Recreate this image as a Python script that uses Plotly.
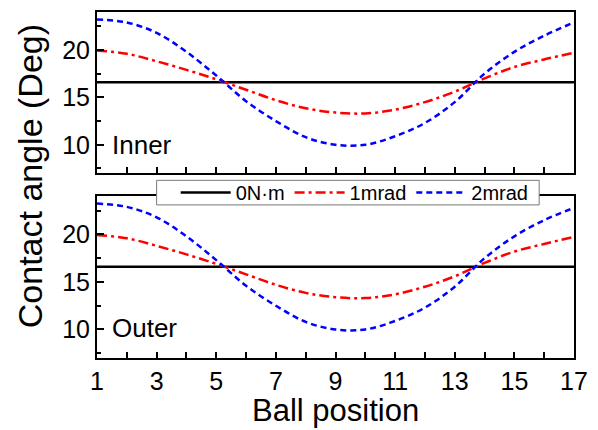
import plotly.graph_objects as go

positions = list(range(1, 18))
x_tick_vals = [1, 3, 5, 7, 9, 11, 13, 15, 17]
y_tick_vals = [10, 15, 20]

series_names = ["0N·m", "1mrad", "2mrad"]

inner_0nm = [16.6] * 17
inner_1mrad = [19.95, 19.6, 18.8, 17.9, 16.9, 15.8, 14.7, 13.85, 13.4, 13.3, 13.7, 14.5, 15.6, 17.0, 18.2, 19.0, 19.7]
inner_2mrad = [23.2, 22.9, 21.8, 19.8, 17.3, 14.6, 12.5, 10.8, 10.0, 10.0, 10.9, 12.3, 14.5, 17.5, 19.8, 21.5, 22.9]

outer_0nm = [16.6] * 17
outer_1mrad = [19.95, 19.6, 18.8, 17.9, 16.9, 15.8, 14.7, 13.85, 13.4, 13.3, 13.7, 14.5, 15.6, 17.0, 18.2, 19.0, 19.75]
outer_2mrad = [23.25, 22.9, 21.8, 19.8, 17.3, 14.6, 12.5, 10.8, 10.0, 10.0, 10.9, 12.3, 14.5, 17.5, 19.8, 21.5, 22.8]

FONT = "Liberation Sans, Arial, sans-serif"
styles = [
    dict(color="#000000", width=2.5, dash="solid"),
    dict(color="#FF0000", width=2.5, dash="10px,4px,3px,4px"),
    dict(color="#0000FF", width=2.5, dash="6px,4px"),
]

fig = go.Figure()

panels = [
    ("x2", "y2", [inner_0nm, inner_1mrad, inner_2mrad], True),
    ("x", "y", [outer_0nm, outer_1mrad, outer_2mrad], False),
]
for xa, ya, data, show in panels:
    for name, vals, st in zip(series_names, data, styles):
        fig.add_trace(go.Scatter(
            x=positions, y=vals, mode="lines", name=name,
            line=dict(color=st["color"], width=st["width"], dash=st["dash"], shape="spline", smoothing=1.0),
            xaxis=xa, yaxis=ya, showlegend=show,
        ))

axis_common = dict(
    showline=True, linecolor="black", linewidth=2, mirror=True,
    ticks="inside", tickcolor="black", tickwidth=1.5,
    showgrid=False, zeroline=False,
    tickfont=dict(family=FONT, size=25, color="black"),
)

fig.update_layout(
    width=598, height=430,
    margin=dict(l=97, r=21, t=10, b=72),
    paper_bgcolor="white", plot_bgcolor="white",
    font=dict(family=FONT, color="black"),
    xaxis=dict(**axis_common, range=[1, 17], tickvals=x_tick_vals, ticklen=6,
               minor=dict(dtick=1, tick0=1, ticklen=6, tickwidth=1.5, tickcolor="black", ticks="inside"),
               anchor="y", domain=[0, 1]),
    xaxis2=dict(**axis_common, range=[1, 17], tickvals=x_tick_vals, ticklen=6, showticklabels=False,
                minor=dict(dtick=1, tick0=1, ticklen=6, tickwidth=1.5, tickcolor="black", ticks="inside"),
                anchor="y2", matches="x", domain=[0, 1]),
    yaxis=dict(**axis_common, range=[7, 24], tickvals=y_tick_vals, ticklen=7,
               minor=dict(dtick=2.5, tick0=0, ticklen=4, tickwidth=1.5, tickcolor="black", ticks="inside"),
               domain=[0, 0.467], anchor="x"),
    yaxis2=dict(**axis_common, range=[7, 24], tickvals=y_tick_vals, ticklen=7,
                minor=dict(dtick=2.5, tick0=0, ticklen=4, tickwidth=1.5, tickcolor="black", ticks="inside"),
                domain=[0.534, 1], anchor="x2"),
    legend=dict(
        orientation="h", x=0.165, y=0.478, xanchor="left", yanchor="middle",
        bgcolor="rgba(0,0,0,0)", borderwidth=0,
        font=dict(family=FONT, size=20, color="black"),
        itemwidth=50, tracegroupgap=0,
    ),
    shapes=[
        dict(type="rect", xref="paper", yref="paper", x0=0.125, x1=0.927, y0=0.4425, y1=0.5135,
             fillcolor="white", line=dict(color="#777777", width=1), layer="above"),
    ],
    annotations=[
        dict(text="Contact angle (Deg)", xref="paper", yref="paper", x=-0.14, y=0.526,
             textangle=-90, showarrow=False, xanchor="center", yanchor="middle",
             font=dict(family=FONT, size=34, color="black")),
        dict(text="Ball position", xref="paper", yref="paper", x=0.5, y=-0.152,
             showarrow=False, xanchor="center", yanchor="middle",
             font=dict(family=FONT, size=31, color="black")),
        dict(text="Inner", xref="x2", yref="y2", x=1.45, y=10.0, showarrow=False,
             xanchor="left", yanchor="middle", font=dict(family=FONT, size=26, color="black")),
        dict(text="Outer", xref="x", yref="y", x=1.42, y=10.2, showarrow=False,
             xanchor="left", yanchor="middle", font=dict(family=FONT, size=26, color="black")),
    ],
)

fig.write_html("out.html", config={"displayModeBar": False},
               post_script="document.body.style.margin='0px';")
